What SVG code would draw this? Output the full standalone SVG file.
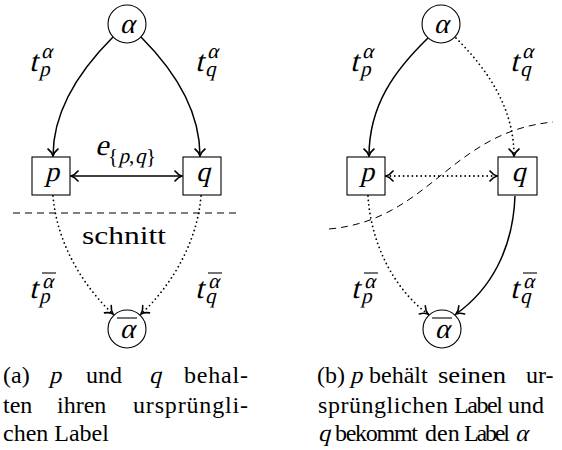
<svg xmlns="http://www.w3.org/2000/svg" width="562" height="450" viewBox="0 0 562 450">
<style>
  text { font-family: "Liberation Serif", "Times New Roman", serif; fill: #000; font-style: normal; }
  .node { font-size: 28px; text-anchor: middle; }
  .lab { font-size: 30px; }
  .scr { font-size: 21px; }
  .cap { font-size: 24px; }
  .box { fill: #fff; stroke: #000; stroke-width: 1.1; }
  .circ { fill: #fff; stroke: #000; stroke-width: 1.1; }
  .solid { fill: none; stroke: #000; stroke-width: 1.5; }
  .dot { fill: none; stroke: #000; stroke-width: 1.8; stroke-dasharray: 0 4.4; stroke-linecap: round; }
  .cut { fill: none; stroke: #000; stroke-width: 1; stroke-dasharray: 7 5; }
  .bar { stroke: #000; stroke-width: 1.1; }
</style>
<defs>
  <marker id="ah" viewBox="-9 -6 11 12" refX="0" refY="0" markerWidth="11" markerHeight="12" markerUnits="userSpaceOnUse" orient="auto-start-reverse">
    <path d="M -7 -5 C -4.5 -1.8, -1.8 -0.5, 0 0 C -1.8 0.5, -4.5 1.8, -7 5" fill="none" stroke="#000" stroke-width="1.6" stroke-linecap="round" stroke-dasharray="none"/>
  </marker>
</defs>

<!-- connectors -->
<g id="connectors">
  <path class="solid" d="M 113 37 C 80 70, 53 110, 53 156" marker-end="url(#ah)"/>
  <path class="solid" d="M 141 37 C 174 70, 200 110, 200 156" marker-end="url(#ah)"/>
  <path class="solid" d="M 71 176 L 182 176" marker-start="url(#ah)" marker-end="url(#ah)"/>
  <path class="dot" d="M 53 196 C 57 245, 85 288, 113 314" marker-end="url(#ah)"/>
  <path class="dot" d="M 201 196 C 197 245, 169 288, 141 314" marker-end="url(#ah)"/>
  <path class="cut" d="M 13 213 L 240 213"/>
  <path class="solid" d="M 428 38 C 395 70, 369 105, 369 156" marker-end="url(#ah)"/>
  <path class="dot" d="M 456 38 C 490 72, 514 110, 514 156" marker-end="url(#ah)"/>
  <path class="dot" d="M 386 176 L 497 176" marker-start="url(#ah)" marker-end="url(#ah)"/>
  <path class="dot" d="M 368 196 C 371 245, 395 290, 428 314" marker-end="url(#ah)"/>
  <path class="solid" d="M 515 196 C 513 250, 490 290, 456 314" marker-end="url(#ah)"/>
  <path class="cut" d="M 329 229 C 430 220, 450 132, 553 122"/>
</g>

<!-- panel a nodes -->
<g id="a-alpha">
  <circle class="circ" cx="127" cy="24" r="19"/>
  <text class="node" transform="translate(127 33) skewX(-14)">α</text>
</g>
<g id="a-p">
  <rect class="box" x="32" y="157" width="38" height="38"/>
  <text class="node" transform="translate(52 181) skewX(-14)">p</text>
</g>
<g id="a-q">
  <rect class="box" x="183" y="157" width="38" height="38"/>
  <text class="node" transform="translate(203 181) skewX(-14)">q</text>
</g>
<g id="a-alphabar">
  <circle class="circ" cx="127" cy="329" r="19"/>
  <text class="node" transform="translate(127 338) skewX(-14)">α</text>
  <line class="bar" x1="117" y1="318" x2="137" y2="318"/>
</g>

<!-- panel b nodes -->
<g id="b-alpha">
  <circle class="circ" cx="441" cy="24" r="19"/>
  <text class="node" transform="translate(441 33) skewX(-14)">α</text>
</g>
<g id="b-p">
  <rect class="box" x="347" y="157" width="38" height="38"/>
  <text class="node" transform="translate(367 181) skewX(-14)">p</text>
</g>
<g id="b-q">
  <rect class="box" x="498" y="157" width="39" height="38"/>
  <text class="node" transform="translate(518.5 181) skewX(-14)">q</text>
</g>
<g id="b-alphabar">
  <circle class="circ" cx="442" cy="329" r="19"/>
  <text class="node" transform="translate(442 338) skewX(-14)">α</text>
  <line class="bar" x1="432" y1="318" x2="452" y2="318"/>
</g>

<!-- labels panel a -->
<g id="labels-a">
  <text class="lab" transform="translate(29 71) skewX(-14)">t</text>
  <text class="scr" transform="translate(41 58) skewX(-14)">α</text>
  <text class="scr" transform="translate(39 76) skewX(-14)">p</text>

  <text class="lab" transform="translate(195 71) skewX(-14)">t</text>
  <text class="scr" transform="translate(207 58) skewX(-14)">α</text>
  <text class="scr" transform="translate(205 76) skewX(-14)">q</text>

  <text class="lab" transform="translate(95 155) skewX(-14)">e</text>
  <text class="scr" x="108" y="163">{</text>
  <text class="scr" transform="translate(118.5 163) skewX(-14)">p</text>
  <text class="scr" x="129" y="163">,</text>
  <text class="scr" transform="translate(135 163) skewX(-14)">q</text>
  <text class="scr" x="146" y="163">}</text>

  <text x="82" y="244" font-size="26" textLength="84" lengthAdjust="spacingAndGlyphs">schnitt</text>

  <text class="lab" transform="translate(29 298) skewX(-14)">t</text>
  <text class="scr" transform="translate(42 288) skewX(-14)">α</text>
  <line class="bar" x1="42" y1="273" x2="56" y2="273"/>
  <text class="scr" transform="translate(39 303) skewX(-14)">p</text>

  <text class="lab" transform="translate(195 298) skewX(-14)">t</text>
  <text class="scr" transform="translate(208 288) skewX(-14)">α</text>
  <line class="bar" x1="208" y1="273" x2="222" y2="273"/>
  <text class="scr" transform="translate(205 303) skewX(-14)">q</text>
</g>

<!-- labels panel b -->
<g id="labels-b">
  <text class="lab" transform="translate(350 71) skewX(-14)">t</text>
  <text class="scr" transform="translate(362 58) skewX(-14)">α</text>
  <text class="scr" transform="translate(360 76) skewX(-14)">p</text>

  <text class="lab" transform="translate(510 71) skewX(-14)">t</text>
  <text class="scr" transform="translate(522 58) skewX(-14)">α</text>
  <text class="scr" transform="translate(520 76) skewX(-14)">q</text>

  <text class="lab" transform="translate(351 298) skewX(-14)">t</text>
  <text class="scr" transform="translate(364 288) skewX(-14)">α</text>
  <line class="bar" x1="364" y1="273" x2="378" y2="273"/>
  <text class="scr" transform="translate(361 303) skewX(-14)">p</text>

  <text class="lab" transform="translate(510 298) skewX(-14)">t</text>
  <text class="scr" transform="translate(523 288) skewX(-14)">α</text>
  <line class="bar" x1="523" y1="273" x2="537" y2="273"/>
  <text class="scr" transform="translate(520 303) skewX(-14)">q</text>
</g>

<!-- captions -->
<g id="caption-a">
  <text class="cap" y="383"><tspan x="3">(a)</tspan><tspan x="86">und</tspan><tspan x="184" textLength="64">behal-</tspan></text>
  <text class="cap" transform="translate(49 383) skewX(-14)">p</text>
  <text class="cap" transform="translate(149 383) skewX(-14)">q</text>
  <text class="cap" y="413"><tspan x="3">ten</tspan><tspan x="57">ihren</tspan><tspan x="133" textLength="115">ursprüngli-</tspan></text>
  <text class="cap" y="441"><tspan x="3">chen Label</tspan></text>
</g>
<g id="caption-b">
  <text class="cap" y="383"><tspan x="317">(b)</tspan><tspan x="369">behält</tspan><tspan x="438" textLength="68" lengthAdjust="spacingAndGlyphs">seinen</tspan><tspan x="526">ur-</tspan></text>
  <text class="cap" transform="translate(350 383) skewX(-14)">p</text>
  <text class="cap" y="413"><tspan x="318" textLength="130">sprünglichen</tspan><tspan x="454" textLength="49">Label</tspan><tspan x="508">und</tspan></text>
  <text class="cap" transform="translate(318 441) skewX(-14)">q</text>
  <text class="cap" y="441"><tspan x="335" textLength="83">bekommt</tspan><tspan x="425">den</tspan><tspan x="464" textLength="46">Label</tspan></text>
  <text class="cap" transform="translate(515 441) skewX(-14)">α</text>
</g>
</svg>
